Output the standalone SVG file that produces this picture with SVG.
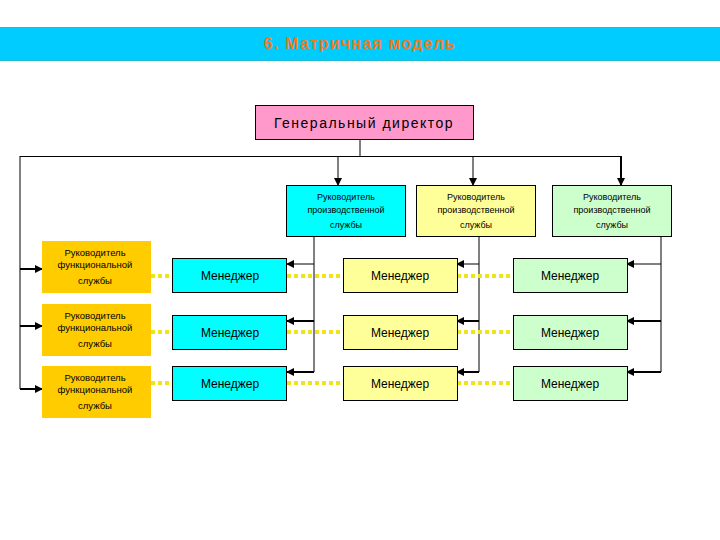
<svg xmlns="http://www.w3.org/2000/svg" width="720" height="540" viewBox="0 0 720 540">
<style>
text{font-family:"Liberation Sans",Arial,sans-serif;text-anchor:middle;fill:#000}
.box{stroke:#000;stroke-width:1}
.small{font-size:9.5px}
.ps{font-size:9px}
.mgr{font-size:12px}
.ln{stroke:#000;fill:none}
.dot{stroke:#F2E21A;stroke-width:4;stroke-dasharray:4 3;fill:none}
</style>
<defs>
<marker id="ar" markerWidth="8" markerHeight="8" refX="7" refY="4" orient="auto" markerUnits="userSpaceOnUse">
<path d="M0,0 L8,4 L0,8 Z" fill="#000"/>
</marker>
</defs>
<rect x="0" y="27" width="720" height="34" fill="#00CCFF"/>
<line x1="0" y1="27.5" x2="720" y2="27.5" stroke="#1BB8D0" stroke-width="1"/>
<line x1="0" y1="60.5" x2="720" y2="60.5" stroke="#1BB8D0" stroke-width="1"/>
<text x="360" y="49" style="font-size:16px;font-weight:bold;letter-spacing:1.2px;fill:#F07A1E">6. Матричная модель</text>

<g id="connectors">
<path class="ln" d="M360,139 V156.5 M20,156.5 H621 M20,156 V389"/>
<line class="ln" x1="338" y1="156" x2="338" y2="185" marker-end="url(#ar)"/>
<line class="ln" x1="473" y1="156" x2="473" y2="185" marker-end="url(#ar)"/>
<line class="ln" x1="621" y1="156" x2="621" y2="185" stroke-width="2" marker-end="url(#ar)"/>
<line class="ln" x1="20" y1="269" x2="42" y2="269" stroke-width="2" marker-end="url(#ar)"/>
<line class="ln" x1="20" y1="326" x2="42" y2="326" stroke-width="2" marker-end="url(#ar)"/>
<line class="ln" x1="20" y1="389" x2="42" y2="389" stroke-width="2" marker-end="url(#ar)"/>
<path class="ln" d="M314,237 V372 M479,237 V372 M661,237 V372"/>
<line class="ln" x1="314" y1="264" x2="287" y2="264" marker-end="url(#ar)"/>
<line class="ln" x1="314" y1="321" x2="287" y2="321" stroke-width="2" marker-end="url(#ar)"/>
<line class="ln" x1="314" y1="372" x2="287" y2="372" stroke-width="2" marker-end="url(#ar)"/>
<line class="ln" x1="479" y1="264" x2="457" y2="264" marker-end="url(#ar)"/>
<line class="ln" x1="479" y1="321" x2="457" y2="321" stroke-width="2" marker-end="url(#ar)"/>
<line class="ln" x1="479" y1="372" x2="457" y2="372" stroke-width="2" marker-end="url(#ar)"/>
<line class="ln" x1="661" y1="264" x2="627" y2="264" marker-end="url(#ar)"/>
<line class="ln" x1="661" y1="321" x2="627" y2="321" stroke-width="2" marker-end="url(#ar)"/>
<line class="ln" x1="661" y1="372" x2="627" y2="372" stroke-width="2" marker-end="url(#ar)"/>
<path class="dot" d="M151,276 H172 M287,276 H343 M457,276 H513"/>
<path class="dot" d="M151,332 H172 M287,332 H343 M457,332 H513"/>
<path class="dot" d="M151,383 H172 M287,383 H343 M457,383 H513"/>
</g>

<g id="director">
<rect class="box" x="255.5" y="105.5" width="218" height="34" fill="#FF99CC"/>
<text x="364" y="128" style="font-size:14px;letter-spacing:1.5px">Генеральный директор</text>
</g>

<g id="prod1">
<rect class="box" x="286.5" y="185.5" width="119" height="51" fill="#00FFFF"/>
<text class="ps" x="346" y="200">Руководитель</text>
<text class="ps" x="346" y="213">производственной</text>
<text class="ps" x="346" y="228">службы</text>
</g>
<g id="prod2">
<rect class="box" x="416.5" y="185.5" width="119" height="51" fill="#FFFF99"/>
<text class="ps" x="476" y="200">Руководитель</text>
<text class="ps" x="476" y="213">производственной</text>
<text class="ps" x="476" y="228">службы</text>
</g>
<g id="prod3">
<rect class="box" x="552.5" y="185.5" width="119" height="51" fill="#CCFFCC"/>
<text class="ps" x="612" y="200">Руководитель</text>
<text class="ps" x="612" y="213">производственной</text>
<text class="ps" x="612" y="228">службы</text>
</g>

<g id="func1">
<rect x="42" y="241" width="109" height="52" fill="#FFCC00"/>
<text class="small" x="95" y="256">Руководитель</text>
<text class="small" x="95" y="268">функциональной</text>
<text class="small" x="95" y="284">службы</text>
</g>
<g id="func2">
<rect x="42" y="304" width="109" height="52" fill="#FFCC00"/>
<text class="small" x="95" y="319">Руководитель</text>
<text class="small" x="95" y="331">функциональной</text>
<text class="small" x="95" y="347">службы</text>
</g>
<g id="func3">
<rect x="42" y="366" width="109" height="52" fill="#FFCC00"/>
<text class="small" x="95" y="381">Руководитель</text>
<text class="small" x="95" y="393">функциональной</text>
<text class="small" x="95" y="409">службы</text>
</g>

<g id="m11"><rect class="box" x="172.5" y="258.5" width="114" height="34" fill="#00FFFF"/><text class="mgr" x="230" y="280">Менеджер</text></g>
<g id="m12"><rect class="box" x="343.5" y="258.5" width="114" height="34" fill="#FFFF99"/><text class="mgr" x="400" y="280">Менеджер</text></g>
<g id="m13"><rect class="box" x="513.5" y="258.5" width="114" height="34" fill="#CCFFCC"/><text class="mgr" x="570" y="280">Менеджер</text></g>
<g id="m21"><rect class="box" x="172.5" y="315.5" width="114" height="34" fill="#00FFFF"/><text class="mgr" x="230" y="337">Менеджер</text></g>
<g id="m22"><rect class="box" x="343.5" y="315.5" width="114" height="34" fill="#FFFF99"/><text class="mgr" x="400" y="337">Менеджер</text></g>
<g id="m23"><rect class="box" x="513.5" y="315.5" width="114" height="34" fill="#CCFFCC"/><text class="mgr" x="570" y="337">Менеджер</text></g>
<g id="m31"><rect class="box" x="172.5" y="366.5" width="114" height="34" fill="#00FFFF"/><text class="mgr" x="230" y="388">Менеджер</text></g>
<g id="m32"><rect class="box" x="343.5" y="366.5" width="114" height="34" fill="#FFFF99"/><text class="mgr" x="400" y="388">Менеджер</text></g>
<g id="m33"><rect class="box" x="513.5" y="366.5" width="114" height="34" fill="#CCFFCC"/><text class="mgr" x="570" y="388">Менеджер</text></g>
</svg>
